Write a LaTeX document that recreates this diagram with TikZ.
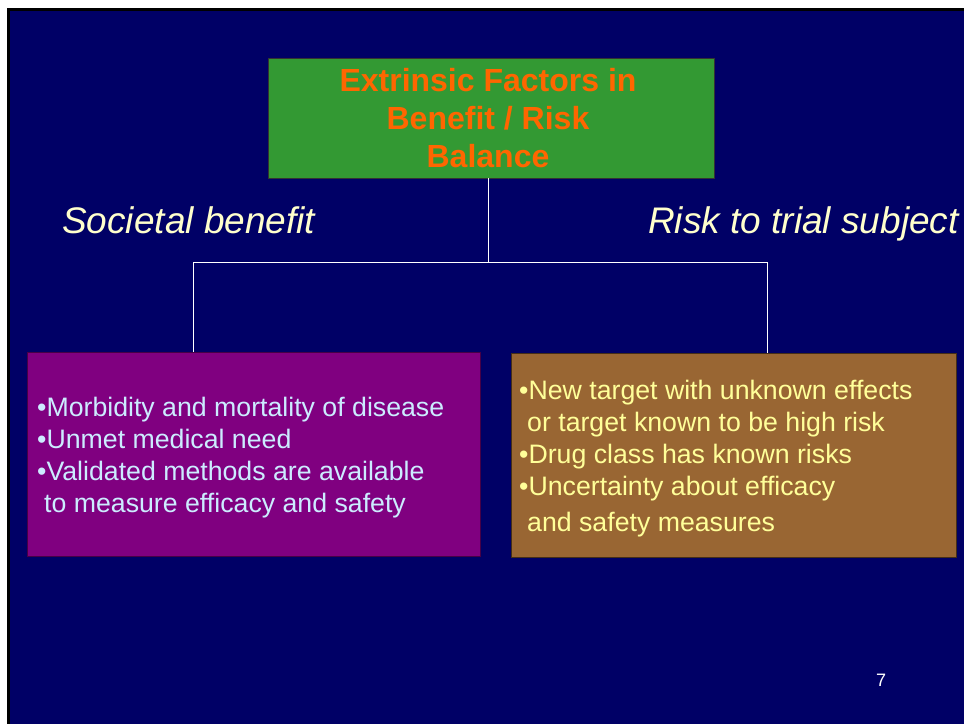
\documentclass[tikz,border=0pt]{standalone}
\usepackage{fontspec}
\setmainfont{Liberation Sans}
\usetikzlibrary{positioning,calc}
\definecolor{slidenavy}{HTML}{000066}
\definecolor{factorgreen}{HTML}{339933}
\definecolor{factororange}{HTML}{FF6600}
\definecolor{benefitpurple}{HTML}{800080}
\definecolor{riskbrown}{HTML}{996633}
\definecolor{benefittext}{HTML}{CCECFF}
\definecolor{risktext}{HTML}{FFFF99}
\definecolor{sidelabel}{HTML}{FFFFCC}

\begin{document}
\begin{tikzpicture}[x=1pt, y=-1pt,
  titlebox/.style={draw=black!80, fill=factorgreen, line width=0.8pt, minimum width=446pt,
    minimum height=120pt, inner sep=0pt},
  titletext/.style={align=center, text=factororange, inner sep=0pt,
    font=\fontsize{32}{38}\selectfont\bfseries},
  listbox/.style={line width=0.8pt, minimum height=204pt, anchor=north west, inner sep=0pt},
  listtext/.style={align=left, inner sep=0pt, anchor=west,
    font=\fontsize{26.7}{32}\selectfont},
  side/.style={font=\fontsize{37}{40}\selectfont\itshape, text=sidelabel, inner sep=0pt,
    anchor=base west},
  link/.style={draw=white, line width=1pt}
]
  \useasboundingbox (0,0) rectangle (964,724);
  \fill[white] (0,0) rectangle (964,724);
  \fill[black] (7,8) rectangle (964,724);
  \fill[slidenavy] (10,11) rectangle (964,724);

  \node[titlebox] (top) at (491,118) {};
  \node[titletext] (toptext) at ([xshift=-3pt]top.center)
    {Extrinsic Factors in\\Benefit / Risk\\Balance};

  \node[side] (societal) at (62,233) {Societal benefit};
  \node[side] (trialrisk) at (648,233) {Risk to trial subject};

  \node[listbox, fill=benefitpurple, draw=benefitpurple!55!black, minimum width=453pt]
    (benefit) at (27,352) {};
  \node[listtext, text=benefittext] (benefittext) at ([xshift=10pt, yshift=-3pt]benefit.west)
    {•Morbidity and mortality of disease\\•Unmet medical need\\
     •Validated methods are available\\\hspace*{7pt}to measure efficacy and safety};
  \node[listbox, fill=riskbrown, draw=riskbrown!45!black, minimum width=445pt]
    (risk) at (511,353) {};
  \node[listtext, text=risktext] (risktext) at ([xshift=8pt, yshift=-3pt]risk.west)
    {•New target with unknown effects\\\hspace*{8pt}or target known to be high risk\\
     •Drug class has known risks\\•Uncertainty about efficacy\\[4pt]
     \hspace*{8pt}and safety measures};

  \coordinate (mid) at (488,262);
  \coordinate (lj) at (193,262);
  \coordinate (rj) at (767,262);
  \draw[link] (mid |- top.south) -- (mid);
  \draw[link] (lj) -- (rj);
  \draw[link] (lj) -- (lj |- benefit.north);
  \draw[link] (rj) -- (rj |- risk.north);

  \node[font=\fontsize{18}{20}\selectfont, text=white] (pagenum) at (881,680) {7};
\end{tikzpicture}
\end{document}
